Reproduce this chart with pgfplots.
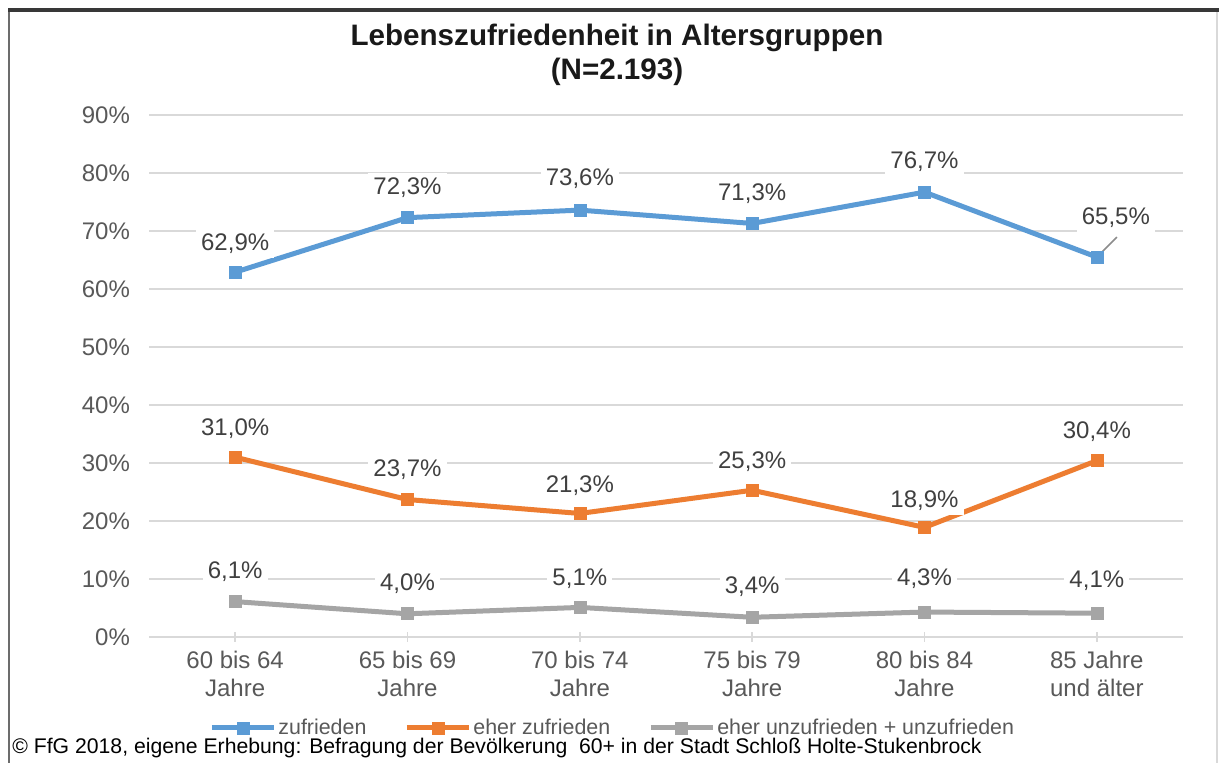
\documentclass[border=0pt]{standalone}
\usepackage{pgfplots}
\pgfplotsset{compat=1.18}
\usepackage{pgfplotstable}
\usepackage{fontspec}
\setmainfont{Liberation Sans}
\definecolor{cblue}{HTML}{5B9BD5}
\definecolor{corange}{HTML}{ED7D31}
\definecolor{cgray}{HTML}{A5A5A5}
\definecolor{gridc}{HTML}{D9D9D9}
\definecolor{tickc}{HTML}{595959}
\definecolor{labc}{HTML}{404040}

\pgfplotstableread{
x y dx dy
0 62.9 0 14.5
1 72.3 0 15
2 73.6 0 15.5
3 71.3 0 15
4 76.7 0 15
5 65.5 9.5 19.5
}\zuf
\pgfplotstableread{
x y dx dy
0 31.0 0 14.5
1 23.7 0 15
2 21.3 0 14
3 25.3 0 14.5
4 18.9 0 13.5
5 30.4 0 14.5
}\eher
\pgfplotstableread{
x y dx dy
0 6.1 0 15
1 4.0 0 15
2 5.1 0 14.5
3 3.4 0 15.5
4 4.3 0 16.5
5 4.1 0 16.5
}\unz

\begin{document}
\begin{tikzpicture}
\useasboundingbox (0,0) rectangle (609.5pt,381.5pt);
\fill[white] (0,0) rectangle (609.5pt,381.5pt);
% frame
\draw[color=gray!85!black, line width=1pt] (4.5pt,0) -- (4.5pt,376.5pt);
\draw[color=gray!30, line width=0.75pt] (608.5pt,0) -- (608.5pt,376.5pt);
\draw[color=black!78, line width=2pt] (4pt,376.5pt) -- (609.5pt,376.5pt);
% title
\node[align=center, font=\fontsize{14.8}{17}\selectfont\bfseries, text=black!90] at (308.5pt,354pt)
  {Lebenszufriedenheit in Altersgruppen\\(N=2.193)};
\begin{axis}[
  at={(74.5pt,63pt)}, anchor=south west,
  scale only axis, width=517pt, height=261pt,
  xmin=-0.5, xmax=5.5, ymin=0, ymax=90,
  /pgf/number format/assume math mode=true,
  xtick={0,1,2,3,4,5},
  xticklabels={{60 bis 64\\Jahre},{65 bis 69\\Jahre},{70 bis 74\\Jahre},{75 bis 79\\Jahre},{80 bis 84\\Jahre},{85 Jahre\\und älter}},
  xticklabel style={align=center, font=\fontsize{12}{14}\selectfont, text=tickc, yshift=-1pt},
  ytick={0,10,...,90},
  yticklabel={\pgfmathprintnumber{\tick}\%},
  yticklabel style={font=\fontsize{12}{14}\selectfont, text=tickc, xshift=-6pt},
  ymajorgrids, grid style={color=gridc, line width=1pt},
  axis x line*=bottom, axis y line*=left,
  y axis line style={draw=none},
  x axis line style={color=gridc, line width=1pt, -},
  xtick style={color=gridc, line width=0.75pt},
  xtick align=center, major tick length=5pt,
  ytick style={draw=none},
  every axis plot/.append style={line width=2.5pt},
  nodes near coords={\pgfmathprintnumber[fixed, fixed zerofill, precision=1, use comma]{\pgfplotspointmeta}\%},
  visualization depends on={\thisrow{dx} \as \dx},
  visualization depends on={\thisrow{dy} \as \dy},
  every node near coord/.append style={anchor=center, xshift=\dx pt, yshift=\dy pt, fill=white, inner sep=2.5pt, font=\fontsize{12}{14}\selectfont, text=labc},
  legend columns=3,
  legend style={at={(axis description cs:0.4485,-0.1743)}, anchor=center, draw=none, fill=none,
    font=\fontsize{10.7}{12}\selectfont, text=tickc, inner sep=0pt,
    /tikz/every even column/.append style={column sep=18pt},
    nodes={inner sep=1pt}},
  legend image code/.code={\draw[mark repeat=2, mark phase=2, #1] plot coordinates {(0pt,0pt) (15.5pt,0pt) (31pt,0pt)};},
  clip=false,
]
\draw[color=gray!90, line width=0.75pt] (axis cs:5,65.5) -- ++(10pt,10pt);
\addplot[color=cblue, mark=square*, mark size=3pt, mark options={line width=0.3pt}] table[x=x,y=y] {\zuf};
\addlegendentry{zufrieden}
\addplot[color=corange, mark=square*, mark size=3pt, mark options={line width=0.3pt}] table[x=x,y=y] {\eher};
\addlegendentry{eher zufrieden}
\addplot[color=cgray, mark=square*, mark size=3pt, mark options={line width=0.3pt}] table[x=x,y=y] {\unz};
\addlegendentry{eher unzufrieden + unzufrieden}
\end{axis}
% source
\node[anchor=west, inner sep=0pt, font=\fontsize{10.6}{12}\selectfont, text=black] at (6pt,7.5pt)
  {© FfG 2018, eigene Erhebung: Befragung der Bevölkerung\ \ 60+ in der Stadt Schloß Holte-Stukenbrock};
\end{tikzpicture}
\end{document}
